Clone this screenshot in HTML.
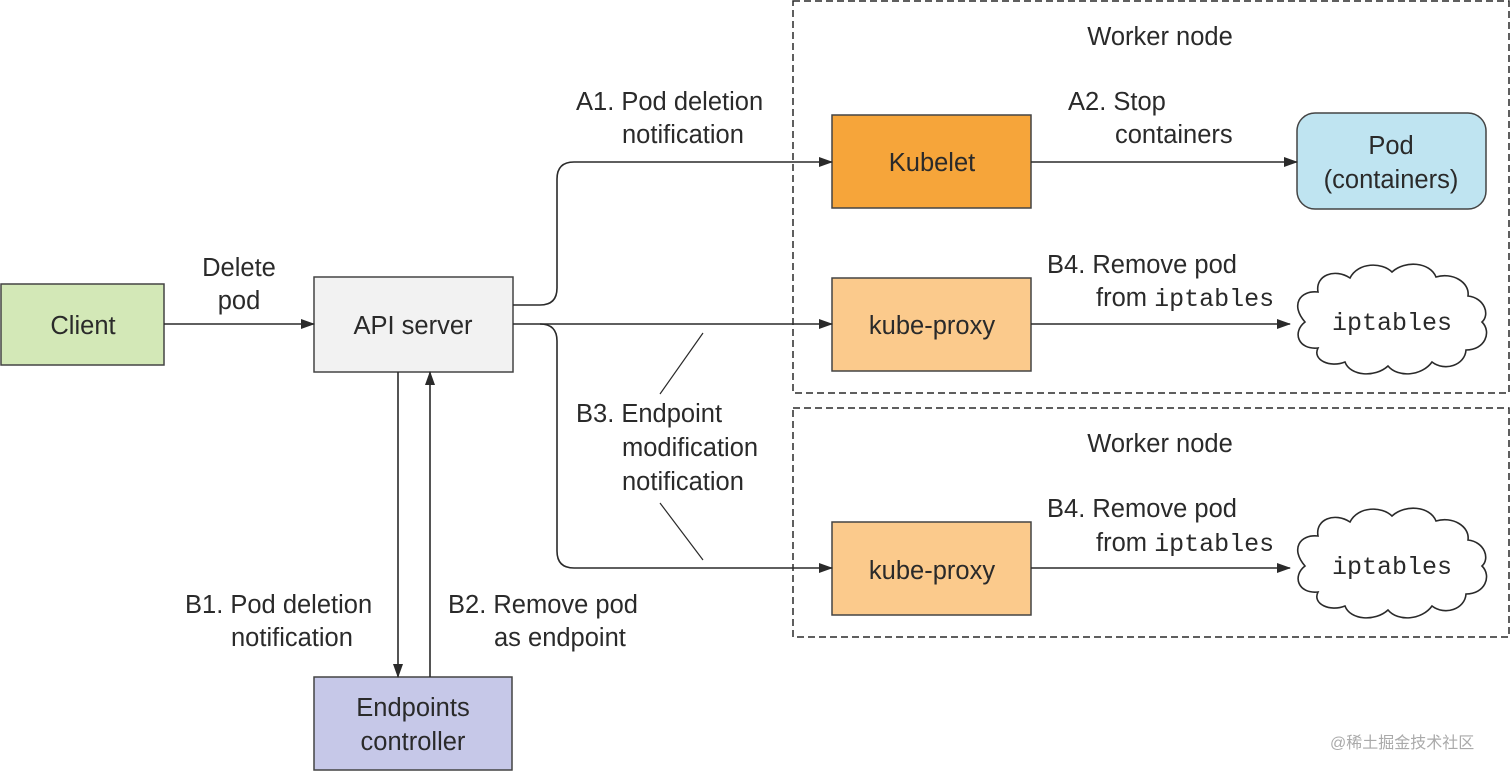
<!DOCTYPE html>
<html><head><meta charset="utf-8"><style>
html,body{margin:0;padding:0;background:#fff}
svg text{font-family:"Liberation Sans",Arial,sans-serif;font-size:25.5px;fill:#2a2a2a}
.m{font-family:"Liberation Mono",monospace;font-size:25px;font-weight:normal}
</style></head><body>
<svg width="1512" height="772" viewBox="0 0 1512 772" xmlns="http://www.w3.org/2000/svg">
<defs><marker id="a" markerWidth="14" markerHeight="10" refX="13" refY="5" orient="auto" markerUnits="userSpaceOnUse"><path d="M0,0 L14,5 L0,10 z" fill="#2a2a2a"/></marker></defs>
<g fill="none" stroke="#2a2a2a" stroke-width="1.5" stroke-dasharray="7,4">
<rect x="793" y="1" width="716" height="392"/>
<rect x="793" y="408" width="716" height="229"/>
</g>
<g stroke="#444" stroke-width="1.5">
<rect x="1" y="284" width="163" height="81" fill="#d3e8b7"/>
<rect x="314" y="277" width="199" height="95" fill="#f2f2f2"/>
<rect x="314" y="677" width="198" height="93" fill="#c6c8e8"/>
<rect x="832" y="115" width="199" height="93" fill="#f6a53a"/>
<rect x="832" y="278" width="199" height="93" fill="#fbca8c"/>
<rect x="832" y="522" width="199" height="93" fill="#fbca8c"/>
<rect x="1297" y="113" width="189" height="96" rx="18" fill="#bfe4f1"/>
</g>
<g fill="#fff" stroke="#2a2a2a" stroke-width="1.6">
<path id="cl" d="M1305,322 C1290,305 1300,290 1318,292 C1315,275 1335,268 1350,278 C1358,262 1382,262 1392,272 C1405,260 1430,262 1436,277 C1452,272 1470,282 1468,296 C1485,298 1490,315 1482,322 C1492,332 1485,350 1466,350 C1465,365 1445,372 1432,362 C1422,376 1398,378 1388,366 C1375,378 1350,376 1345,362 C1330,368 1312,360 1318,348 C1298,350 1292,332 1305,322 z"/>
<use href="#cl" y="244"/>
</g>
<g fill="none" stroke="#2a2a2a" stroke-width="1.6">
<path d="M164,324 H314" marker-end="url(#a)"/>
<path d="M513,305 H540 Q557,305 557,288 V179 Q557,162 574,162 H832" marker-end="url(#a)"/>
<path d="M513,324 H832" marker-end="url(#a)"/>
<path d="M540,324 Q557,324 557,341 V551 Q557,568 574,568 H832" marker-end="url(#a)"/>
<path d="M398,372 V677" marker-end="url(#a)"/>
<path d="M430,677 V372" marker-end="url(#a)"/>
<path d="M1031,162 H1297" marker-end="url(#a)"/>
<path d="M1031,324 H1290" marker-end="url(#a)"/>
<path d="M1031,568 H1290" marker-end="url(#a)"/>
<path d="M660,394 L703,333 M660,503 L703,560" stroke-width="1.2"/>
</g>
<g text-anchor="middle">
<text x="83" y="334">Client</text>
<text x="413" y="334">API server</text>
<text x="413" y="716">Endpoints</text>
<text x="413" y="750">controller</text>
<text x="932" y="171">Kubelet</text>
<text x="932" y="334">kube-proxy</text>
<text x="932" y="579">kube-proxy</text>
<text x="1391" y="154">Pod</text>
<text x="1391" y="188">(containers)</text>
<text x="1392" y="330" class="m">iptables</text>
<text x="1392" y="574" class="m">iptables</text>
<text x="1160" y="45">Worker node</text>
<text x="1160" y="452">Worker node</text>
<text x="239" y="276">Delete</text>
<text x="239" y="309">pod</text>
</g>
<text x="576" y="110">A1. Pod deletion</text>
<text x="622" y="143">notification</text>
<text x="1068" y="110">A2. Stop</text>
<text x="1115" y="143">containers</text>
<text x="1047" y="273">B4. Remove pod</text>
<text x="1096" y="306">from <tspan class="m">iptables</tspan></text>
<text x="1047" y="517">B4. Remove pod</text>
<text x="1096" y="551">from <tspan class="m">iptables</tspan></text>
<text x="576" y="422">B3. Endpoint</text>
<text x="622" y="456">modification</text>
<text x="622" y="490">notification</text>
<text x="185" y="613">B1. Pod deletion</text>
<text x="231" y="646">notification</text>
<text x="448" y="613">B2. Remove pod</text>
<text x="494" y="646">as endpoint</text>
<text x="1330" y="748" style="font-size:16px;fill:#aaa" font-family="'Liberation Sans','Noto Sans CJK SC',sans-serif">@稀土掘金技术社区</text>
</svg>
</body></html>
